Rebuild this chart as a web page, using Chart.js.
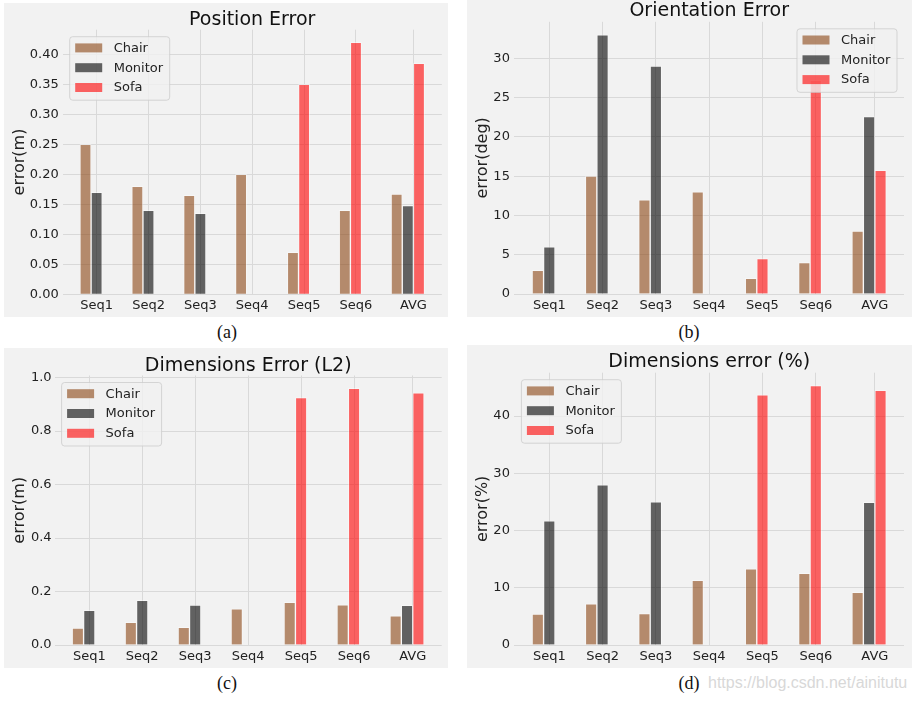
<!DOCTYPE html>
<html><head><meta charset="utf-8">
<script src="https://cdn.jsdelivr.net/npm/chart.js@4.4.1/dist/chart.umd.min.js"></script>
<style>
html,body{margin:0;padding:0;background:#fff;}
body{width:913px;height:703px;position:relative;overflow:hidden;}
.panel{position:absolute;background:#f2f2f2;}
.panel canvas{position:absolute;left:0;top:0;}
.cap{position:absolute;width:60px;text-align:center;font-family:"Liberation Serif","Times New Roman",serif;font-size:18px;line-height:20px;color:#111;}
.wm{position:absolute;font-family:"Liberation Sans",Arial,sans-serif;font-size:16px;line-height:20px;color:#d8d8d8;white-space:nowrap;}
</style></head><body>
<div class="panel" id="pa"><canvas id="ca"></canvas></div>
<div class="panel" id="pb"><canvas id="cb"></canvas></div>
<div class="panel" id="pc"><canvas id="cc"></canvas></div>
<div class="panel" id="pd"><canvas id="cd"></canvas></div>
<div class="cap" style="left:197px;top:322px;">(a)</div>
<div class="cap" style="left:659px;top:322px;">(b)</div>
<div class="cap" style="left:197px;top:673px;">(c)</div>
<div class="cap" style="left:659px;top:673px;">(d)</div>
<div class="wm" style="left:708px;top:673px;">https://blog.csdn.net/ainitutu</div>
<script>
// ---------- data ----------
const categories = ['Seq1', 'Seq2', 'Seq3', 'Seq4', 'Seq5', 'Seq6', 'AVG'];
const seriesNames = ['Chair', 'Monitor', 'Sofa'];

const posChair   = [0.25, 0.18, 0.165, 0.20, 0.07, 0.14, 0.167];
const posMonitor = [0.17, 0.14, 0.135, null, null, null, 0.148];
const posSofa    = [null, null, null, null, 0.35, 0.42, 0.385];
const posTicks   = ['0.00', '0.05', '0.10', '0.15', '0.20', '0.25', '0.30', '0.35', '0.40'];

const oriChair   = [3, 15, 12, 13, 2, 4, 8];
const oriMonitor = [6, 33, 29, null, null, null, 22.6];
const oriSofa    = [null, null, null, null, 4.5, 27.2, 15.75];
const oriTicks   = ['0', '5', '10', '15', '20', '25', '30'];

const dimChair   = [0.063, 0.085, 0.066, 0.135, 0.16, 0.15, 0.109];
const dimMonitor = [0.13, 0.167, 0.149, null, null, null, 0.148];
const dimSofa    = [null, null, null, null, 0.925, 0.96, 0.943];
const dimTicks   = ['0.0', '0.2', '0.4', '0.6', '0.8', '1.0'];

const pctChair   = [5.4, 7.2, 5.5, 11.3, 13.3, 12.5, 9.2];
const pctMonitor = [21.7, 28.0, 25.0, null, null, null, 24.9];
const pctSofa    = [null, null, null, null, 43.7, 45.3, 44.5];
const pctTicks   = ['0', '10', '20', '30', '40'];

// ---------- style / layout ----------
const BAR_W = 0.215;                 // bar width in category units
const colors = ['rgba(139,69,19,0.6)', 'rgba(0,0,0,0.6)', 'rgba(255,0,0,0.6)'];
const GRID = '#d9d9d9';
const TXT = '#222';
Chart.defaults.font.family = "'DejaVu Sans', 'Liberation Sans', sans-serif";
Chart.defaults.color = TXT;

const panels = [
  {cid:'ca', pid:'pa', left:4, top:3, w:444, h:314, title:'Position Error', yLabel:'error(m)',
   series:[posChair, posMonitor, posSofa], ticks:posTicks,
   yW:58.7, rPad:6.2, tTop:9.9, tBot:1.6, xH:22.7, yPad:4, legend:'left'},
  {cid:'cb', pid:'pb', left:467, top:0, w:445, h:317, title:'Orientation Error', yLabel:'error(deg)',
   series:[oriChair, oriMonitor, oriSofa], ticks:oriTicks,
   yW:47.4, rPad:8, tTop:3.4, tBot:3.2, xH:23, yPad:4.5, legend:'right'},
  {cid:'cc', pid:'pc', left:4, top:348, w:444, h:320, title:'Dimensions Error (L2)', yLabel:'error(m)',
   series:[dimChair, dimMonitor, dimSofa], ticks:dimTicks,
   yW:50.6, rPad:6.3, tTop:10.2, tBot:2.1, xH:23, yPad:3, legend:'left'},
  {cid:'cd', pid:'pd', left:467, top:345, w:445, h:323, title:'Dimensions error (%)', yLabel:'error(%)',
   series:[pctChair, pctMonitor, pctSofa], ticks:pctTicks,
   yW:47.4, rPad:8, tTop:9.9, tBot:2.6, xH:23, yPad:4.5, legend:'left'}
];

// x positions: within each category the present series sit side by side,
// the first one BAR_W left of the category position.
function barPoints(series) {
  return series.map((vals, s) => {
    const out = [];
    categories.forEach((c, i) => {
      const present = series.map((v) => v[i]).map((v, k) => (v === null ? -1 : k)).filter((k) => k >= 0);
      const slot = present.indexOf(s);
      if (slot >= 0) out.push({x: i + (slot - 1) * BAR_W, y: series[s][i]});
    });
    return out;
  });
}
// tick positions: the AVG label sits between its middle and right bars
const tickX = categories.map((c, i) => (c === 'AVG' ? i + BAR_W / 2 : i));

const frameLegend = {
  id: 'frameLegend',
  afterDatasetsDraw(chart, args, opts) {
    const {ctx, chartArea: a} = chart;
    const W = 100, H = 63.5, off = 7, r = 3;
    const x0 = opts.side === 'right' ? a.right - off - W : a.left + off;
    const y0 = a.top + off;
    ctx.save();
    ctx.beginPath();
    ctx.moveTo(x0 + r, y0);
    ctx.arcTo(x0 + W, y0, x0 + W, y0 + H, r);
    ctx.arcTo(x0 + W, y0 + H, x0, y0 + H, r);
    ctx.arcTo(x0, y0 + H, x0, y0, r);
    ctx.arcTo(x0, y0, x0 + W, y0, r);
    ctx.closePath();
    ctx.fillStyle = 'rgba(240,240,240,0.8)';
    ctx.fill();
    ctx.strokeStyle = 'rgba(204,204,204,0.8)';
    ctx.lineWidth = 1;
    ctx.stroke();
    chart.data.datasets.forEach((ds, i) => {
      const cy = y0 + 11.2 + i * 19.8;
      ctx.fillStyle = ds.backgroundColor;
      ctx.fillRect(x0 + 5.5, cy - 4.5, 27, 9);
      ctx.fillStyle = TXT;
      ctx.font = "13px 'DejaVu Sans'";
      ctx.textBaseline = 'middle';
      ctx.textAlign = 'left';
      ctx.fillText(ds.label, x0 + 44, cy + 0.5);
    });
    ctx.restore();
  }
};

panels.forEach((p) => {
  const div = document.getElementById(p.pid);
  Object.assign(div.style, {left: p.left + 'px', top: p.top + 'px', width: p.w + 'px', height: p.h + 'px'});
  const cv = document.getElementById(p.cid);
  cv.width = p.w; cv.height = p.h;
  cv.style.width = p.w + 'px'; cv.style.height = p.h + 'px';

  const pts = barPoints(p.series);
  const allX = pts.flat().map((d) => d.x);
  const xLo = Math.min(...allX) - BAR_W / 2, xHi = Math.max(...allX) + BAR_W / 2;
  const xm = (xHi - xLo) * 0.05;
  const yMax = Math.max(...p.series.flat().filter((v) => v !== null)) * 1.05;
  const yTickVals = p.ticks.map(Number);

  new Chart(cv, {
    type: 'bar',
    data: {
      datasets: seriesNames.map((name, s) => ({
        label: name,
        data: pts[s],
        backgroundColor: colors[s],
        borderColor: 'rgba(255,255,255,0.4)',
        borderWidth: 1,
        grouped: false,
        barPercentage: 1,
        categoryPercentage: 1
      }))
    },
    options: {
      responsive: false,
      animation: false,
      devicePixelRatio: 1,
      layout: {padding: {left: 0, right: p.rPad, top: 0, bottom: 0}},
      plugins: {
        legend: {display: false},
        tooltip: {enabled: false},
        title: {
          display: true, text: p.title, fullSize: false,
          font: {size: 19, weight: 'normal', lineHeight: 0.8},
          color: '#111',
          padding: {top: p.tTop, bottom: p.tBot}
        },
        frameLegend: {side: p.legend}
      },
      scales: {
        x: {
          type: 'linear', offset: false,
          min: xLo - xm, max: xHi + xm,
          grid: {color: GRID, lineWidth: 1, drawTicks: false, offset: false},
          border: {display: false},
          afterBuildTicks: (sc) => { sc.ticks = tickX.map((v) => ({value: v})); },
          afterFit: (sc) => { sc.height = p.xH; },
          ticks: {
            font: {size: 13}, color: TXT, padding: 4, maxRotation: 0, autoSkip: false,
            callback: (v, idx) => categories[idx]
          }
        },
        y: {
          type: 'linear', min: 0, max: yMax,
          grid: {color: GRID, lineWidth: 1, drawTicks: false},
          border: {display: false},
          afterBuildTicks: (sc) => { sc.ticks = yTickVals.map((v) => ({value: v})); },
          afterFit: (sc) => { sc.width = p.yW; },
          ticks: {
            font: {size: 13}, color: TXT, padding: p.yPad,
            callback: (v, idx) => p.ticks[idx]
          },
          title: {
            display: true, text: p.yLabel, color: TXT,
            font: {size: 16, lineHeight: 1.2},
            padding: {top: 6.5, bottom: 0}
          }
        }
      }
    },
    plugins: [frameLegend]
  });
});
</script>
</body></html>
